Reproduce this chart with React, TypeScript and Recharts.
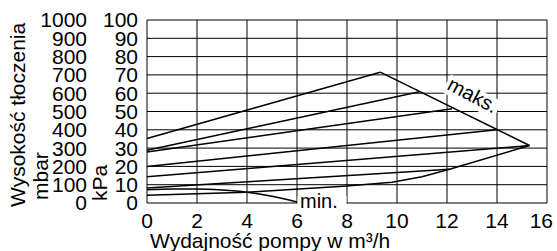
import { LineChart, Line, XAxis, YAxis, CartesianGrid, ReferenceDot, Label } from 'recharts';

const FONT = '"Liberation Sans", Arial, sans-serif';

const flowTicks = [0, 2, 4, 6, 8, 10, 12, 14, 16];
const kpaTicks = [0, 10, 20, 30, 40, 50, 60, 70, 80, 90, 100];
const mbarTicks = [0, 100, 200, 300, 400, 500, 600, 700, 800, 900, 1000];

// q = flow in m³/h, h = head in kPa
const prop1 = [{ q: 0, h: 35.2 }, { q: 9.33, h: 71.5 }];
const prop2 = [{ q: 0, h: 28.8 }, { q: 10.9, h: 60.8 }];
const prop3 = [{ q: 0, h: 27.9 }, { q: 12.2, h: 51.5 }];
const prop4 = [{ q: 0, h: 20.0 }, { q: 14.0, h: 40.0 }];
const prop5 = [{ q: 0, h: 14.3 }, { q: 15.3, h: 31.4 }];
const prop6 = [{ q: 0, h: 8.2 }, { q: 12.1, h: 18.4 }];
const maxCurve = [{ q: 9.33, h: 71.5 }, { q: 15.3, h: 31.4 }];
const lowerCurve = [
  { q: 0, h: 4.2 },
  { q: 4, h: 5.9 },
  { q: 8, h: 9.3 },
  { q: 9.8, h: 11.3 },
  { q: 11, h: 14.3 },
  { q: 12.1, h: 18.4 },
  { q: 15.3, h: 31.4 },
];
const minCurve = [
  { q: 0, h: 7.3 },
  { q: 1, h: 7.6 },
  { q: 2, h: 7.7 },
  { q: 3, h: 7.1 },
  { q: 4, h: 5.9 },
  { q: 5, h: 3.7 },
  { q: 6, h: 0.6 },
];

const straight = [prop1, prop2, prop3, prop4, prop5, prop6, maxCurve, lowerCurve];

const minLabelAt = { q: 6, h: 0 };
const maxLabelAt = { q: 13, h: 58 };

// kPa and mbar tick labels share one axis, mbar column sits 51px further left
function HeadTick(props: any) {
  const { x, y, index } = props;
  return (
    <g fontFamily={FONT} fontSize={21} fill="#000">
      <text x={x} y={y} dy="0.355em" textAnchor="end">{kpaTicks[index]}</text>
      <text x={x - 51} y={y} dy="0.355em" textAnchor="end">{mbarTicks[index]}</text>
    </g>
  );
}

function FlowTick(props: any) {
  const { x, y, index } = props;
  const last = index === flowTicks.length - 1;
  return (
    <text
      x={last ? x + 6 : x}
      y={y}
      dy="0.71em"
      textAnchor={last ? 'end' : 'middle'}
      fontFamily={FONT}
      fontSize={21}
      fill="#000"
    >
      {flowTicks[index]}
    </text>
  );
}

function HeadTitles(props: any) {
  const { x, y, height } = props.viewBox;
  const bottom = y + height;
  const x1 = x + 25;
  const y1 = bottom + 4;
  const x2 = x + 48;
  const y2 = bottom - 3;
  const x3 = x + 107;
  const y3 = bottom - 2;
  return (
    <g fontFamily={FONT} fontSize={21} fill="#000">
      <text x={x1} y={y1} transform={`rotate(-90 ${x1} ${y1})`}>Wysokość tłoczenia</text>
      <text x={x2} y={y2} transform={`rotate(-90 ${x2} ${y2})`}>mbar</text>
      <text x={x3} y={y3} transform={`rotate(-90 ${x3} ${y3})`}>kPa</text>
    </g>
  );
}

function FlowTitle(props: any) {
  const { x, y, height } = props.viewBox;
  return (
    <text x={x + 3} y={y + height - 3} fontFamily={FONT} fontSize={21} fill="#000">
      Wydajność pompy w m³/h
    </text>
  );
}

function MinLabel(props: any) {
  const { x, y, width, height } = props.viewBox;
  const cx = x + width / 2;
  const cy = y + height / 2;
  return (
    <g>
      <rect x={cx + 0.5} y={cy - 7} width={49} height={14} fill="#fff" />
      <text x={cx + 3} y={cy + 5} fontFamily={FONT} fontSize={20} fill="#000">min.</text>
    </g>
  );
}

function MaxLabel(props: any) {
  const { x, y, width, height } = props.viewBox;
  const cx = x + width / 2;
  const cy = y + height / 2;
  return (
    <g transform={`rotate(28 ${cx} ${cy})`}>
      <rect x={cx - 29} y={cy - 10} width={58} height={20} fill="#fff" />
      <text x={cx} y={cy + 5} textAnchor="middle" fontFamily={FONT} fontSize={20} fill="#000">maks.</text>
    </g>
  );
}

export default function App() {
  return (
    <div style={{ position: 'absolute', left: 0, top: 0, background: '#fff' }}>
      <LineChart width={557} height={251} margin={{ top: 20, right: 10, bottom: 0, left: 0 }}>
        <CartesianGrid stroke="#000" strokeWidth={1} yAxisId="kpa" />
        <XAxis
          type="number"
          dataKey="q"
          domain={[0, 16]}
          ticks={flowTicks}
          interval={0}
          axisLine={false}
          tickLine={false}
          tickSize={0}
          tickMargin={10}
          height={48}
          tick={<FlowTick />}
        >
          <Label content={FlowTitle} />
        </XAxis>
        <YAxis
          yAxisId="kpa"
          type="number"
          domain={[0, 100]}
          ticks={kpaTicks}
          interval={0}
          width={147}
          axisLine={false}
          tickLine={false}
          tickSize={0}
          tickMargin={9}
          tick={<HeadTick />}
        >
          <Label content={HeadTitles} />
        </YAxis>
        {straight.map((d, i) => (
          <Line
            key={i}
            yAxisId="kpa"
            data={d}
            dataKey="h"
            type="linear"
            stroke="#000"
            strokeWidth={1.5}
            dot={false}
            activeDot={false}
            isAnimationActive={false}
          />
        ))}
        <Line
          yAxisId="kpa"
          data={minCurve}
          dataKey="h"
          type="monotone"
          stroke="#000"
          strokeWidth={1.5}
          dot={false}
          activeDot={false}
          isAnimationActive={false}
        />
        <ReferenceDot yAxisId="kpa" x={minLabelAt.q} y={minLabelAt.h} r={1} fill="none" stroke="none" label={<MinLabel />} />
        <ReferenceDot yAxisId="kpa" x={maxLabelAt.q} y={maxLabelAt.h} r={1} fill="none" stroke="none" label={<MaxLabel />} />
      </LineChart>
    </div>
  );
}
